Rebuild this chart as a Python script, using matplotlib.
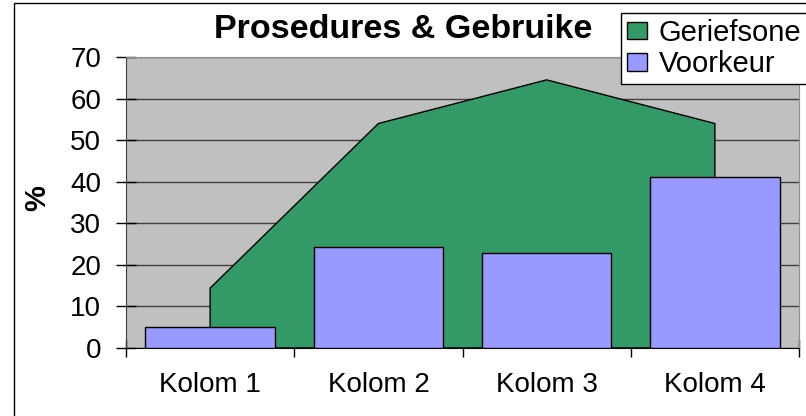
import matplotlib
matplotlib.use("Agg")
import matplotlib.pyplot as plt
import numpy as np
from matplotlib.patches import Patch, Rectangle

categories = ["Kolom 1", "Kolom 2", "Kolom 3", "Kolom 4"]
geriefsone = [14.4, 54.0, 64.5, 54.0]
voorkeur = [5.0, 24.3, 22.8, 41.1]
yticks = [0, 10, 20, 30, 40, 50, 60, 70]
title = "Prosedures & Gebruike"
ylabel = "%"

plt.rcParams['font.family'] = ['Liberation Sans', 'DejaVu Sans']

W, H = 806, 416
fig = plt.figure(figsize=(W / 100, H / 100), dpi=100)
fig.patch.set_facecolor("white")

# outer chart border
fig.patches.append(Rectangle((14 / W, -0.05), 1.2, 1 - 3 / H + 0.05,
                             transform=fig.transFigure, fill=False,
                             edgecolor="black", linewidth=1.0, zorder=0))

ax = fig.add_axes([126 / W, 1 - 348 / H, (799 - 126) / W, (348 - 57) / H])
ax.set_facecolor("#C0C0C0")

x = np.arange(len(categories))
green = "#339966"
purple = "#9999FF"

# area series
poly_x = np.concatenate([[x[0]], x, [x[-1]]])
poly_y = np.concatenate([[0], geriefsone, [0]])
ax.fill(poly_x, poly_y, facecolor=green, edgecolor="black", linewidth=1.0, zorder=2)

# column series
ax.bar(x, voorkeur, width=0.77, color=purple, edgecolor="black", linewidth=1.0, zorder=3)

ax.set_xlim(-0.5, len(categories) - 0.5)
ax.set_ylim(0, 70)
ax.set_yticks(yticks)
ax.yaxis.grid(True, color="#404040", linewidth=1.0, zorder=1)
ax.set_axisbelow(True)

ax.set_xticks(x)
ax.set_xticklabels(categories, fontsize=20)
ax.set_xticks(np.arange(len(categories) + 1) - 0.5, minor=True)
ax.tick_params(axis="x", which="major", length=0, pad=17)
ax.tick_params(axis="x", which="minor", direction="inout", length=13, width=1, color="black")
ax.tick_params(axis="y", direction="inout", length=14, width=1, labelsize=20, pad=11, color="black")

for s in ["top", "right"]:
    ax.spines[s].set_color("#909090")
ax.spines["left"].set_color("#404040")
ax.spines["bottom"].set_color("black")

fig.text(403 / W, 1 - 30 / H, title, ha="center", va="center",
         fontsize=24.5, fontweight="bold")
fig.text(37 / W, 1 - 198 / H, ylabel, ha="center", va="center",
         fontsize=21, fontweight="bold", rotation=90)

handles = [Patch(facecolor=green, edgecolor="black", linewidth=1.0),
           Patch(facecolor=purple, edgecolor="black", linewidth=1.0)]
leg = fig.legend(handles, ["Geriefsone", "Voorkeur"], loc="upper left",
                 bbox_to_anchor=(621 / W, 1 - 13 / H), fontsize=21,
                 frameon=True, fancybox=False, edgecolor="black", framealpha=1,
                 handlelength=0.7, handleheight=0.55, handletextpad=0.4,
                 borderpad=0.2, labelspacing=0.12, borderaxespad=0)
leg.get_frame().set_linewidth(1.0)

fig.savefig("out.png", dpi=100)
